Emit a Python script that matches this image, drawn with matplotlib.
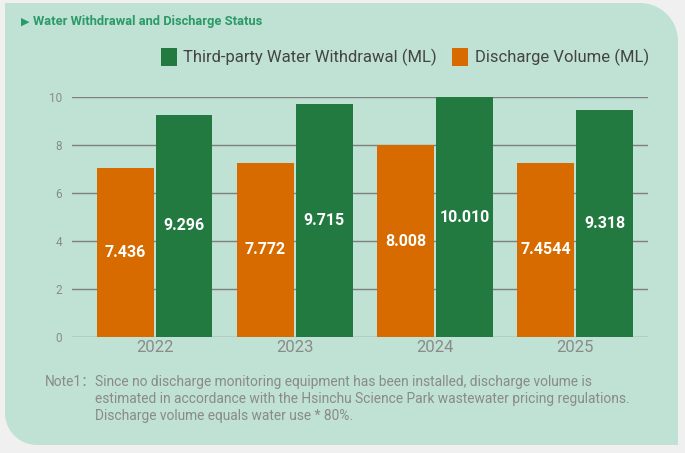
import numpy as np
import matplotlib
matplotlib.use("Agg")
import matplotlib.pyplot as plt
from matplotlib.patches import Polygon, Rectangle

# 数据
years = ["2022", "2023", "2024", "2025"]
discharge_heights = [7.05, 7.26, 8.0, 7.26]
withdrawal_heights = [9.26, 9.71, 10.01, 9.46]
discharge_labels = ["7.436", "7.772", "8.008", "7.4544"]
withdrawal_labels = ["9.296", "9.715", "10.010", "9.318"]
y_ticks = [0, 2, 4, 6, 8, 10]

title = "Water Withdrawal and Discharge Status"
legend_names = ["Third-party Water Withdrawal (ML)", "Discharge Volume (ML)"]
note_head = "Note1："
note_lines = [
    "Since no discharge monitoring equipment has been installed, discharge volume is",
    "estimated in accordance with the Hsinchu Science Park wastewater pricing regulations.",
    "Discharge volume equals water use * 80%.",
]

ORANGE = "#d76b00"
GREEN = "#237a41"
PANEL = "#bfe2d4"
FONT = ["Roboto", "DejaVu Sans", "Noto Sans CJK SC"]

W, H = 685, 453
fig = plt.figure(figsize=(W / 100, H / 100), dpi=100)
fig.patch.set_facecolor("#f0f0f0")


def px(x, y):
    # 图片像素坐标 -> figure 坐标
    return x / W, 1 - y / H


# 圆角面板
def panel_path(l, t, r, b, r_tr, r_bl):
    pts = [(l, t), (r - r_tr, t)]
    a = np.linspace(np.pi / 2, 0, 20)
    pts += [(r - r_tr + r_tr * np.cos(v), t + r_tr - r_tr * np.sin(v)) for v in a]
    pts += [(r, b), (l + r_bl, b)]
    a = np.linspace(3 * np.pi / 2, np.pi, 20)
    pts += [(l + r_bl + r_bl * np.cos(v), b - r_bl - r_bl * np.sin(v)) for v in a]
    return [px(x, y) for x, y in pts]


fig.patches.append(Polygon(panel_path(5, 3, 678, 445, 38, 32), closed=True,
                           transform=fig.transFigure, facecolor=PANEL,
                           edgecolor="none", zorder=-5))

# 标题
fig.text(*px(21, 22), "▶", color="#2a9a66", fontsize=8, family=FONT, va="center")
fig.text(*px(33, 22), title, color="#2a9a66", fontsize=9.3, fontweight="bold",
         family=FONT, va="center")

# 图例
for (x0, xt), name, c in zip([(161, 183), (452, 475)], legend_names, [GREEN, ORANGE]):
    fx, fy = px(x0, 66)
    fig.patches.append(Rectangle((fx, fy), 16 / W, 18 / H, transform=fig.transFigure,
                                 facecolor=c, edgecolor="none", zorder=-4))
    fig.text(*px(xt, 57), name, color="#444444", fontsize=12, family=FONT, va="center")

# 柱状图
ax = fig.add_axes([72 / W, (H - 337) / H, 576 / W, 240 / H], zorder=2)
ax.patch.set_visible(False)
x = np.arange(len(years))
off, bw = 0.21, 0.405
ax.bar(x - off, discharge_heights, bw, color=ORANGE, zorder=3)
ax.bar(x + off, withdrawal_heights, bw, color=GREEN, zorder=3)

for i in range(len(years)):
    ax.text(x[i] - off, discharge_heights[i] / 2, discharge_labels[i], color="white",
            fontsize=11.5, fontweight="bold", family=FONT, ha="center", va="center", zorder=4)
    h = min(withdrawal_heights[i], 10)
    ax.text(x[i] + off, h / 2, withdrawal_labels[i], color="white",
            fontsize=11.5, fontweight="bold", family=FONT, ha="center", va="center", zorder=4)

ax.set_xlim(-0.59, 3.52)
ax.set_ylim(0, 10)
ax.set_yticks(y_ticks)
ax.set_xticks(x)
ax.set_xticklabels(years)
ax.yaxis.grid(True, color="#808080", linewidth=1)
ax.set_axisbelow(True)
for s in ax.spines.values():
    s.set_visible(False)
ax.tick_params(axis="both", length=0)
ax.tick_params(axis="y", labelsize=8.5, labelcolor="#8a8a8a", pad=7)
ax.tick_params(axis="x", labelsize=12, labelcolor="#8a8a8a", pad=2)
for lab in ax.get_xticklabels() + ax.get_yticklabels():
    lab.set_family(FONT)

# 注释
fig.text(*px(45, 382), note_head, color="#8a8a8a", fontsize=9.9, family=FONT, va="center")
for k, line in enumerate(note_lines):
    fig.text(*px(95, 382 + 17 * k), line, color="#8a8a8a", fontsize=9.9,
             family=FONT, va="center")

fig.savefig("out.png", dpi=100, facecolor=fig.get_facecolor())
